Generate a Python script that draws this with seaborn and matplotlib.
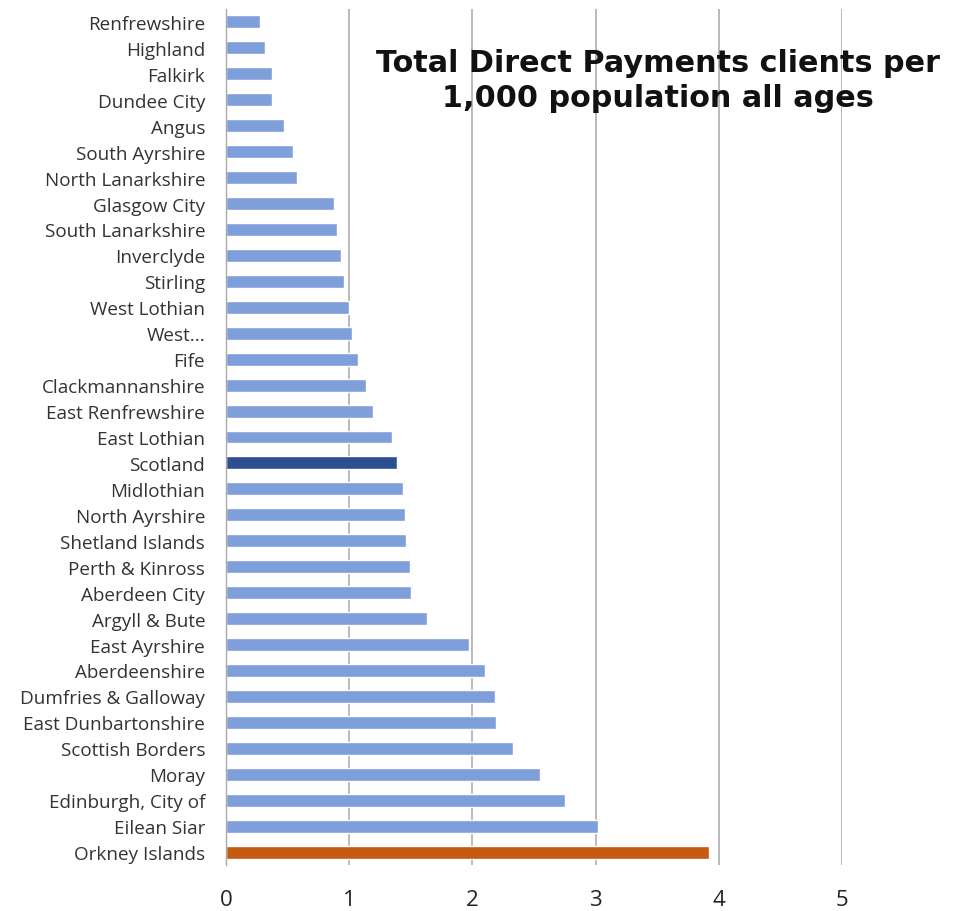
import numpy as np
import pandas as pd
import matplotlib
matplotlib.use("Agg")
import matplotlib.pyplot as plt
import seaborn as sns

areas = [
    "Renfrewshire", "Highland", "Falkirk", "Dundee City", "Angus",
    "South Ayrshire", "North Lanarkshire", "Glasgow City", "South Lanarkshire",
    "Inverclyde", "Stirling", "West Lothian", "West...", "Fife",
    "Clackmannanshire", "East Renfrewshire", "East Lothian", "Scotland",
    "Midlothian", "North Ayrshire", "Shetland Islands", "Perth & Kinross",
    "Aberdeen City", "Argyll & Bute", "East Ayrshire", "Aberdeenshire",
    "Dumfries & Galloway", "East Dunbartonshire", "Scottish Borders", "Moray",
    "Edinburgh, City of", "Eilean Siar", "Orkney Islands",
]
clients_per_1000 = [
    0.28, 0.32, 0.37, 0.37, 0.47,
    0.54, 0.58, 0.88, 0.90,
    0.93, 0.96, 1.00, 1.02, 1.07,
    1.14, 1.19, 1.35, 1.39,
    1.44, 1.45, 1.46, 1.49,
    1.50, 1.63, 1.97, 2.10,
    2.18, 2.19, 2.33, 2.55,
    2.75, 3.02, 3.92,
]
x_ticks = [0, 1, 2, 3, 4, 5]
title = "Total Direct Payments clients per\n1,000 population all ages"

base_colour = "#7f9fdb"
colours = {a: base_colour for a in areas}
colours["Scotland"] = "#2b4f91"
colours["Orkney Islands"] = "#c55a11"

df = pd.DataFrame({"area": areas, "value": clients_per_1000})

sns.set_style("white")
plt.rcParams["font.family"] = ["Open Sans", "DejaVu Sans"]

fig = plt.figure(figsize=(9.6, 9.12), dpi=100)
ax = fig.add_axes([226 / 960, 1 - 866 / 912, (842 - 226) / 960, (866 - 10) / 912])

sns.barplot(data=df, x="value", y="area", hue="area", palette=colours,
            legend=False, orient="h", width=0.5, ax=ax, saturation=1)

ax.set_xlim(0, 5)
ax.set_ylim(len(areas) - 0.5, -0.5)
ax.set_xticks(x_ticks)
ax.set_xticklabels([str(t) for t in x_ticks], fontsize=16, color="#222222")
ax.tick_params(axis="x", length=0, pad=17)
ax.tick_params(axis="y", which="major", length=0, labelsize=13.6,
               labelcolor="#333333", pad=15)
ax.set_yticks(np.arange(-0.5, len(areas)), minor=True)
ax.tick_params(axis="y", which="minor", length=5, color="#aaaaaa", width=1)
ax.set_xlabel("")
ax.set_ylabel("")

ax.grid(axis="x", color="#b4b4b4", linewidth=1.3)
ax.set_axisbelow(True)
for side in ["top", "right", "bottom"]:
    ax.spines[side].set_visible(False)
ax.spines["left"].set_color("#aaaaaa")
ax.spines["left"].set_linewidth(1)

fig.text(658 / 960, 1 - 81 / 912, title, ha="center", va="center",
         fontsize=21.8, fontweight="bold", family=["DejaVu Sans"],
         color="#111111", linespacing=1.28)

fig.savefig("out.png", dpi=100, facecolor="white")
